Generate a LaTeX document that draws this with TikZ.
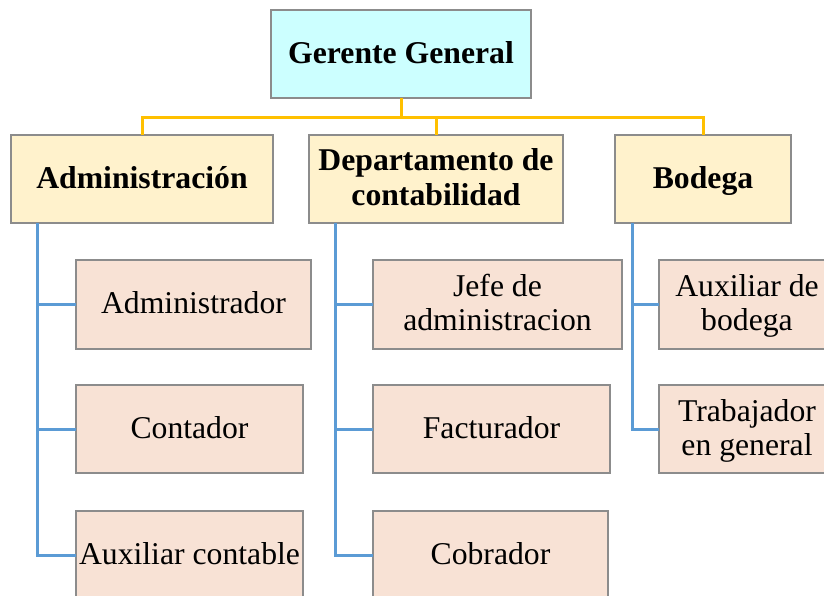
\documentclass[tikz,border=0pt]{standalone}
\usepackage{fontspec}
\setmainfont{Liberation Serif}
\definecolor{topfill}{HTML}{CCFFFF}
\definecolor{deptfill}{HTML}{FFF2CC}
\definecolor{jobfill}{HTML}{F8E2D5}
\definecolor{boxline}{HTML}{8C8C8C}
\definecolor{orgline}{HTML}{FFC000}
\definecolor{bluline}{HTML}{5B9BD5}
\newcommand\mys{\rule[-8pt]{0pt}{34pt}}
\tikzset{
  basebox/.style={rectangle, draw=boxline, line width=1.2pt, inner sep=0pt, outer sep=0pt, align=center,
    font=\fontsize{31.7}{34}\selectfont},
  topbox/.style={basebox, fill=topfill, font=\fontsize{31.7}{34}\selectfont\bfseries},
  deptbox/.style={basebox, fill=deptfill, minimum height=88pt, font=\fontsize{31.7}{33}\selectfont\bfseries},
  jobbox/.style={basebox, fill=jobfill},
  orgconn/.style={draw=orgline, line width=3pt},
  bluconn/.style={draw=bluline, line width=3pt},
}
\begin{document}
\begin{tikzpicture}[x=1pt,y=-1pt]
\clip (0,0) rectangle (824,595);
\fill[white] (0,0) rectangle (824,595);

% top
\node[topbox, minimum width=260pt, minimum height=88pt] (top) at (401,54) {\mys Gerente General};

% departments
\node[deptbox, minimum width=262pt] (adm) at (142,179) {\mys Administración};
\node[deptbox, minimum width=254pt] (dep) at (436,179) {\mys Departamento de\\\mys contabilidad};
\node[deptbox, minimum width=176pt] (bod) at (703,179) {\mys Bodega};

% administration children
\node[jobbox, minimum width=235pt, minimum height=89pt] (a1) at (193.5,304.5) {\mys Administrador};
\node[jobbox, minimum width=227pt, minimum height=88pt] (a2) at (189.5,429) {\mys Contador};
\node[jobbox, minimum width=227pt, minimum height=89pt] (a3) at (189.5,555.5) {\mys Auxiliar contable};

% accounting children
\node[jobbox, minimum width=249pt, minimum height=89pt] (d1) at (497.5,304.5) {\mys Jefe de\\\mys administracion};
\node[jobbox, minimum width=237pt, minimum height=88pt] (d2) at (491.5,429) {\mys Facturador};
\node[jobbox, minimum width=235pt, minimum height=89pt] (d3) at (490.5,555.5) {\mys Cobrador};

% warehouse children
\node[jobbox, minimum width=176pt, minimum height=89pt] (b1) at (747,304.5) {\mys Auxiliar de\\\mys bodega};
\node[jobbox, minimum width=176pt, minimum height=88pt] (b2) at (747,429) {\mys Trabajador\\\mys en general};

% orange connectors
\draw[orgconn] (top.south) -- ++(0,19);
\draw[orgconn] (adm.north) -- ++(0,-18) -| (bod.north);
\draw[orgconn] (dep.north) -- ++(0,-18);

% blue connectors
\coordinate (admv) at ([xshift=26pt]adm.south west);
\coordinate (depv) at ([xshift=26pt]dep.south west);
\coordinate (bodv) at ([xshift=17pt]bod.south west);
\draw[bluconn] (admv) |- (a3.west);
\draw[bluconn] (admv) |- (a1.west);
\draw[bluconn] (admv) |- (a2.west);
\draw[bluconn] (depv) |- (d3.west);
\draw[bluconn] (depv) |- (d1.west);
\draw[bluconn] (depv) |- (d2.west);
\draw[bluconn] (bodv) |- (b2.west);
\draw[bluconn] (bodv) |- (b1.west);
\end{tikzpicture}
\end{document}
